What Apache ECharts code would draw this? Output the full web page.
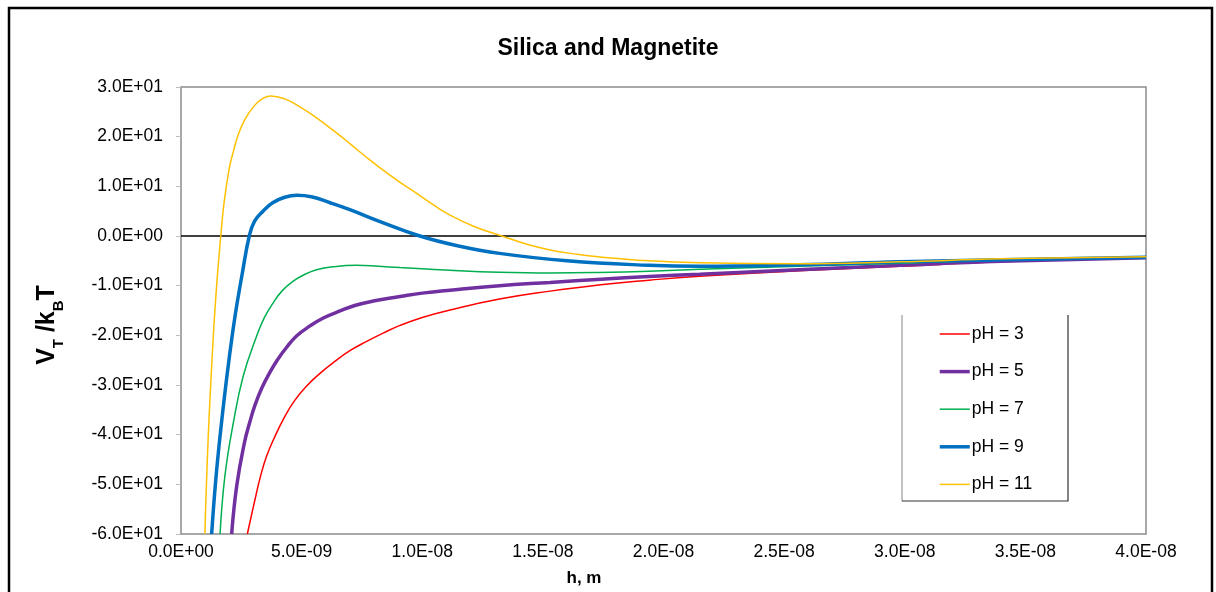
<!DOCTYPE html>
<html>
<head>
<meta charset="utf-8">
<script src="https://cdn.jsdelivr.net/npm/echarts@6/dist/echarts.min.js"></script>
<style>
html,body{margin:0;padding:0;background:#fff;}
#c{width:1216px;height:592px;}
</style>
</head>
<body>
<div id="c"></div>
<script>
// ---- data (h in nm, converted to metres for the axis) ----
var seriesNames = ['pH = 3', 'pH = 5', 'pH = 7', 'pH = 9', 'pH = 11'];

var hRed = [2.75, 3.07, 3.3, 3.55, 3.9, 4.24, 4.7, 5.21, 5.75, 6.31, 7.0, 7.7, 8.4, 9.08, 10.0, 11.15, 13.2, 15.3, 17.4, 19.4, 21.5, 25.6, 29.8, 34, 40];
var vRed = [-60, -53, -48.3, -44.3, -40.3, -36.9, -33.2, -30.2, -27.7, -25.5, -23.1, -21.2, -19.5, -18.0, -16.4, -14.9, -12.7, -11.1, -9.8, -8.9, -8.1, -7.0, -6.1, -5.2, -4.4];

var hPurple = [2.10, 2.31, 2.63, 2.85, 3.07, 3.35, 3.69, 4.0, 4.38, 4.8, 5.35, 5.9, 6.59, 7.2, 7.97, 9.08, 10.0, 11.15, 13.2, 15.3, 17.4, 19.4, 21.5, 25.6, 29.8, 34, 40];
var vPurple = [-60, -50.3, -41.6, -37.5, -34.0, -30.6, -27.4, -24.9, -22.4, -20.1, -18.1, -16.5, -15.1, -14.0, -13.1, -12.2, -11.5, -10.9, -10.0, -9.35, -8.7, -8.15, -7.7, -6.8, -5.9, -5.1, -4.4];

var hGreen = [1.62, 1.82, 2.17, 2.58, 3.14, 3.45, 3.83, 4.2, 4.65, 5.1, 5.62, 6.3, 7.28, 8.2, 9.08, 11.15, 13.2, 15.3, 17.3, 19.4, 21.5, 25.6, 29.8, 34, 40];
var vGreen = [-60, -48.3, -37.6, -28.2, -20.1, -16.5, -13.4, -11.0, -9.1, -7.8, -6.8, -6.2, -5.9, -6.1, -6.35, -6.9, -7.3, -7.45, -7.35, -7.1, -6.7, -6.1, -5.5, -4.9, -4.4];

var hBlue = [1.27, 1.48, 1.75, 2.0, 2.25, 2.52, 2.83, 3.05, 3.4, 3.8, 4.3, 4.8, 5.4, 6.18, 7.0, 8.25, 9.9, 11.5, 13.2, 16.0, 19.4, 21.5, 25.6, 29.8, 34, 40];
var vBlue = [-60, -47, -34.5, -24.5, -15.8, -8.1, 0, 3.0, 5.0, 6.7, 7.8, 8.2, 7.9, 6.7, 5.3, 2.9, 0, -2.0, -3.5, -5.0, -5.9, -6.1, -5.8, -5.2, -4.8, -4.3];

var hYellow = [0.99, 1.13, 1.34, 1.5, 1.65, 1.78, 2.0, 2.17, 2.33, 2.65, 3.07, 3.4, 3.72, 4.3, 4.93, 5.62, 6.3, 7.0, 7.7, 8.39, 9.08, 9.77, 10.45, 11.15, 12.2, 13.3, 14.3, 15.3, 16.3, 17.3, 19.4, 21.5, 25.6, 29.8, 34, 40];
var vYellow = [-60, -40.3, -20.1, -8.5, 0, 6.5, 13.6, 17.0, 19.8, 23.5, 26.4, 27.7, 28.2, 27.6, 26.0, 23.8, 21.3, 18.6, 15.8, 13.2, 10.8, 8.6, 6.3, 4.2, 1.8, 0, -1.6, -2.8, -3.6, -4.2, -5.0, -5.4, -5.6, -5.2, -4.6, -4.2];

var colors = ['#FF0000', '#7030A0', '#00B050', '#0070C0', '#FFC000'];
var widths = [1.5, 3.5, 1.5, 3.5, 1.5];

function pairs(h, v) {
  var out = [];
  for (var i = 0; i < h.length; i++) out.push([h[i] * 1e-9, v[i]]);
  return out;
}

function sci(v) {
  if (Math.abs(v) < 1e-30) return '0.0E+00';
  var e = Math.floor(Math.log10(Math.abs(v)) + 1e-9);
  var m = v / Math.pow(10, e);
  var ms = m.toFixed(1);
  if (Math.abs(parseFloat(ms)) >= 10) { e += 1; ms = (v / Math.pow(10, e)).toFixed(1); }
  var es = String(Math.abs(e));
  if (es.length < 2) es = '0' + es;
  return ms + 'E' + (e < 0 ? '-' : '+') + es;
}

var allH = [hRed, hPurple, hGreen, hBlue, hYellow];
var allV = [vRed, vPurple, vGreen, vBlue, vYellow];
var FONT = 'Liberation Sans, Arial, sans-serif';

var series = [];
for (var s = 0; s < 5; s++) {
  var item = {
    name: seriesNames[s],
    type: 'line',
    data: pairs(allH[s], allV[s]),
    smooth: 0.45,
    showSymbol: false,
    symbol: 'none',
    clip: true,
    lineStyle: { color: colors[s], width: widths[s] },
    itemStyle: { color: colors[s] },
    z: 3,
    silent: true
  };
  if (s === 0) {
    item.markLine = {
      silent: true,
      symbol: 'none',
      label: { show: false },
      lineStyle: { color: '#000', width: 1.5, type: 'solid' },
      data: [{ yAxis: 0 }],
      z: 1
    };
  }
  series.push(item);
}

var chart = echarts.init(document.getElementById('c'));
chart.setOption({
  animation: false,
  backgroundColor: '#fff',
  textStyle: { fontFamily: FONT },
  title: {
    text: 'Silica and Magnetite',
    left: 'center',
    top: 32,
    textStyle: { fontSize: 23, fontWeight: 'bold', color: '#000', fontFamily: FONT }
  },
  grid: {
    left: 181, right: 70, top: 87, bottom: 58,
    show: true, borderColor: '#8c8c8c', borderWidth: 1.5, backgroundColor: 'transparent'
  },
  legend: {
    orient: 'vertical',
    left: 933,
    top: 320,
    itemWidth: 30,
    itemHeight: 20,
    itemGap: 19.6,
    data: seriesNames,
    itemStyle: { opacity: 0 },
    lineStyle: { width: 'inherit' },
    textStyle: { fontSize: 17.5, color: '#000', fontFamily: FONT, padding: [0, 0, 0, -3] },
    selectedMode: false
  },
  xAxis: {
    type: 'value',
    min: 0,
    max: 4e-8,
    interval: 5e-9,
    axisLine: { show: false, onZero: false },
    axisTick: { show: false },
    splitLine: { show: false },
    axisLabel: {
      margin: 9,
      fontSize: 17.5,
      color: '#000',
      fontFamily: FONT,
      formatter: function (v) { return sci(v); }
    }
  },
  yAxis: {
    type: 'value',
    min: -60,
    max: 30,
    interval: 10,
    axisLine: { show: false },
    axisTick: { show: true, inside: false, length: 5, lineStyle: { color: '#bdbdbd', width: 1 } },
    splitLine: { show: false },
    axisLabel: {
      margin: 18,
      fontSize: 17.5,
      color: '#000',
      fontFamily: FONT,
      formatter: function (v) { return sci(v); }
    }
  },
  graphic: [
    {
      type: 'rect',
      shape: { x: 9, y: 8, width: 1203, height: 620 },
      style: { fill: 'none', stroke: '#000', lineWidth: 2.5 },
      silent: true
    },
    {
      type: 'polyline',
      shape: { points: [[902, 315], [902, 501]] },
      style: { fill: 'none', stroke: '#999', lineWidth: 1.2 },
      silent: true
    },
    {
      type: 'polyline',
      shape: { points: [[902, 501], [1068, 501], [1068, 315]] },
      style: { fill: 'none', stroke: '#333', lineWidth: 1.2 },
      silent: true
    },
    {
      type: 'text',
      x: 45,
      y: 325,
      rotation: Math.PI / 2,
      style: {
        text: '{a|V}{s|T}{a| /k}{s|B}{a|T}',
        align: 'center',
        verticalAlign: 'middle',
        rich: {
          a: { fontSize: 25, fontWeight: 'bold', fill: '#000', fontFamily: FONT, lineHeight: 30, verticalAlign: 'bottom' },
          s: { fontSize: 15, fontWeight: 'bold', fill: '#000', fontFamily: FONT, lineHeight: 22, verticalAlign: 'bottom', padding: [0, 0, -6, 0] }
        }
      },
      silent: true
    },
    {
      type: 'text',
      x: 584,
      y: 578,
      style: {
        text: 'h, m',
        align: 'center',
        verticalAlign: 'middle',
        fontSize: 17,
        fontWeight: 'bold',
        fill: '#000',
        fontFamily: FONT
      },
      silent: true
    }
  ],
  series: series
});
</script>
</body>
</html>
